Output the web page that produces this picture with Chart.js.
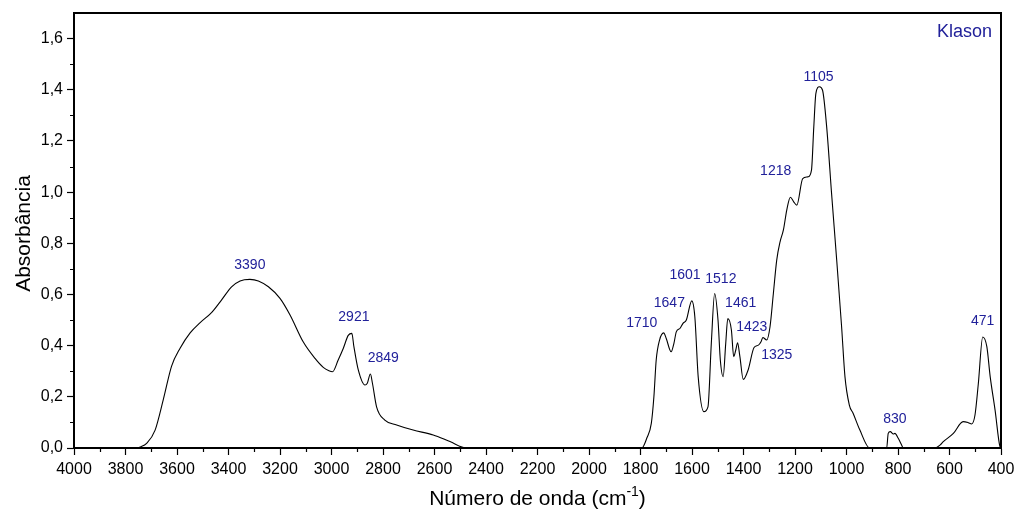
<!DOCTYPE html>
<html>
<head>
<meta charset="utf-8">
<script src="https://cdn.jsdelivr.net/npm/chart.js@4"></script>
<style>
  html, body { margin: 0; padding: 0; background: #ffffff; }
  #wrap { width: 1015px; height: 511px; position: relative; }
</style>
</head>
<body>
<div id="wrap"><canvas id="c"></canvas></div>
<script>
// FTIR spectrum of Klason lignin: wavenumber (cm-1) and absorbance
const wavenumber = [
  4000, 3760, 3740, 3718, 3685, 3653, 3621, 3588, 3549, 3510, 3465, 3426, 3388, 3355, 3317, 3284,
  3245, 3200, 3161, 3110, 3064, 3032, 3010, 2996, 2974, 2954, 2935, 2921, 2913, 2896, 2870, 2861,
  2849, 2841, 2825, 2793, 2747, 2683, 2605, 2540, 2475,
  1795, 1775, 1758, 1748, 1739, 1726, 1710, 1700, 1681, 1670, 1661, 1647, 1635, 1622, 1601, 1589,
  1576, 1554, 1538, 1525, 1512, 1499, 1490, 1479, 1469, 1461, 1447, 1438, 1430, 1423, 1414, 1401,
  1382, 1359, 1342, 1332, 1325, 1310, 1297, 1284, 1271, 1258, 1245, 1232, 1218, 1205, 1193, 1170,
  1149, 1136, 1127, 1119, 1105, 1093, 1077, 1058, 1038, 1019, 1006, 989, 974, 948, 910,
  844, 838, 830, 818, 812, 799, 786, 780,
  656, 636, 624, 585, 547, 527, 514, 501, 488, 471, 455, 442, 423, 404, 400
];
const absorbance = [
  0, 0, 0.005, 0.018, 0.07, 0.19, 0.32, 0.39, 0.45, 0.49, 0.53, 0.58, 0.63, 0.653, 0.659, 0.653,
  0.63, 0.585, 0.52, 0.415, 0.35, 0.315, 0.302, 0.298, 0.344, 0.39, 0.44, 0.448, 0.396, 0.305, 0.246, 0.253,
  0.289, 0.253, 0.161, 0.109, 0.09, 0.07, 0.051, 0.025, 0,
  0, 0.04, 0.096, 0.2, 0.344, 0.422, 0.45, 0.428, 0.376, 0.41, 0.454, 0.467, 0.487, 0.5, 0.575, 0.513,
  0.279, 0.142, 0.161, 0.409, 0.604, 0.5, 0.344, 0.279, 0.409, 0.506, 0.461, 0.357, 0.383, 0.411, 0.357, 0.268,
  0.305, 0.393, 0.402, 0.415, 0.432, 0.422, 0.474, 0.604, 0.734, 0.806, 0.852, 0.93, 0.98, 0.962, 0.949, 1.053,
  1.06, 1.086, 1.255, 1.385, 1.412, 1.398, 1.255, 0.995, 0.734, 0.474, 0.279, 0.168, 0.135, 0.07, 0,
  0, 0.057, 0.064, 0.055, 0.057, 0.038, 0.012, 0,
  0, 0.012, 0.025, 0.057, 0.103, 0.099, 0.094, 0.129, 0.252, 0.434, 0.396, 0.279, 0.148, 0.005, 0
];

// Band labels and where their text sits (wavenumber, absorbance)
const bandText = ['3390', '2921', '2849', '1710', '1647', '1601', '1512', '1461', '1423', '1325', '1218', '1105', '830', '471'];
const bandX    = [3317, 2913, 2799, 1795, 1688, 1627, 1488, 1411, 1368, 1271, 1275, 1109, 812, 471];
const bandY    = [0.715, 0.513, 0.35, 0.487, 0.565, 0.676, 0.66, 0.565, 0.474, 0.363, 1.082, 1.448, 0.112, 0.497];

// Axis settings
const xMin = 400, xMax = 4000, xMajor = 200, xMinor = 100;
const yMin = 0, yMax = 1.7, yMajor = 0.2, yMinor = 0.1, yLastLabel = 1.6;

const FONT = '"Liberation Sans", Arial, Helvetica, sans-serif';
const BLUE = '#21219a';

const points = wavenumber.map((w, i) => ({ x: w, y: absorbance[i] }));

const decor = {
  id: 'decor',
  afterDraw(chart) {
    const ctx = chart.ctx;
    const a = chart.chartArea;
    const xs = chart.scales.x, ys = chart.scales.y;
    ctx.save();

    // minor ticks
    ctx.strokeStyle = '#000';
    ctx.lineWidth = 1.2;
    ctx.beginPath();
    for (let v = xMin + xMinor; v < xMax; v += xMajor) {
      const px = Math.round(xs.getPixelForValue(v)) + 0.5;
      ctx.moveTo(px, a.bottom);
      ctx.lineTo(px, a.bottom + 4);
    }
    for (let v = yMin + yMinor; v < yMax - 1e-9; v += yMajor) {
      const py = Math.round(ys.getPixelForValue(v)) + 0.5;
      ctx.moveTo(a.left, py);
      ctx.lineTo(a.left - 4, py);
    }
    ctx.stroke();

    // frame
    ctx.lineWidth = 2;
    ctx.strokeRect(a.left, a.top, a.right - a.left, a.bottom - a.top);

    // band labels
    ctx.fillStyle = BLUE;
    ctx.font = '14px ' + FONT;
    ctx.textAlign = 'center';
    ctx.textBaseline = 'middle';
    bandText.forEach((t, i) => {
      ctx.fillText(t, xs.getPixelForValue(bandX[i]), ys.getPixelForValue(bandY[i]));
    });

    // sample name
    ctx.font = '18px ' + FONT;
    ctx.textAlign = 'right';
    ctx.fillText('Klason', a.right - 9, a.top + 19);

    // x axis title with superscript
    ctx.fillStyle = '#000';
    ctx.textBaseline = 'alphabetic';
    ctx.textAlign = 'left';
    const main = 'Número de onda (cm', sup = '-1', close = ')';
    ctx.font = '21px ' + FONT;
    const wMain = ctx.measureText(main).width;
    const wClose = ctx.measureText(close).width;
    ctx.font = '14px ' + FONT;
    const wSup = ctx.measureText(sup).width;
    const total = wMain + wSup + wClose;
    let x0 = (a.left + a.right) / 2 - total / 2;
    const base = 505;
    ctx.font = '21px ' + FONT;
    ctx.fillText(main, x0, base);
    ctx.font = '14px ' + FONT;
    ctx.fillText(sup, x0 + wMain, base - 9);
    ctx.font = '21px ' + FONT;
    ctx.fillText(close, x0 + wMain + wSup, base);

    // y axis title
    ctx.translate(30, 233.5);
    ctx.rotate(-Math.PI / 2);
    ctx.textAlign = 'center';
    ctx.fillText('Absorbância', 0, 0);

    ctx.restore();
  }
};

new Chart(document.getElementById('c'), {
  type: 'line',
  data: {
    datasets: [{
      data: points,
      borderColor: '#000',
      borderWidth: 1.1,
      pointRadius: 0,
      fill: false,
      cubicInterpolationMode: 'monotone'
    }]
  },
  options: {
    responsive: true,
    maintainAspectRatio: false,
    animation: false,
    events: [],
    layout: { padding: { top: 13, right: 14, left: 0, bottom: 0 } },
    plugins: { legend: { display: false }, tooltip: { enabled: false } },
    scales: {
      x: {
        type: 'linear',
        reverse: true,
        min: xMin,
        max: xMax,
        afterFit(s) { s.height = 63; s.paddingLeft = 0; s.paddingRight = 0; },
        border: { display: true, color: '#000', width: 2 },
        grid: { drawOnChartArea: false, drawTicks: true, tickLength: 7, color: '#000', tickWidth: 1.2 },
        ticks: {
          stepSize: xMajor,
          autoSkip: false,
          maxRotation: 0,
          padding: 5,
          color: '#000',
          font: { family: FONT, size: 16 },
          callback: v => String(v)
        }
      },
      y: {
        type: 'linear',
        min: yMin,
        max: yMax,
        afterFit(s) { s.width = 74; s.paddingTop = 0; s.paddingBottom = 0; },
        afterBuildTicks(s) { s.ticks = s.ticks.filter(t => t.value <= yLastLabel + 1e-9); },
        border: { display: true, color: '#000', width: 2 },
        grid: { drawOnChartArea: false, drawTicks: true, tickLength: 7, color: '#000', tickWidth: 1.2 },
        ticks: {
          stepSize: yMajor,
          padding: 4,
          color: '#000',
          font: { family: FONT, size: 16 },
          callback: v => v.toFixed(1).replace('.', ',')
        }
      }
    }
  },
  plugins: [decor]
});
</script>
</body>
</html>
